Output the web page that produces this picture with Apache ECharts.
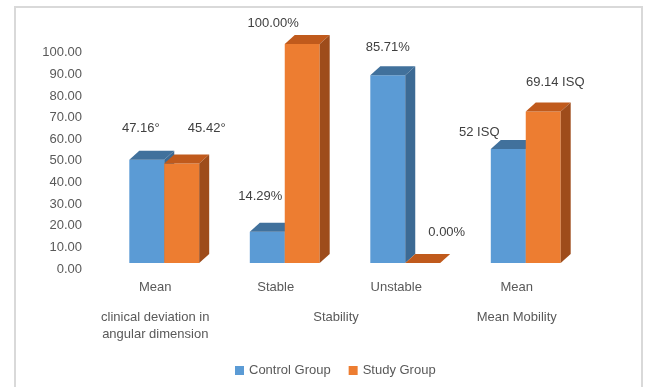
<!DOCTYPE html>
<html>
<head>
<meta charset="utf-8">
<script src="https://cdn.jsdelivr.net/npm/echarts@6/dist/echarts.min.js"></script>
<style>
  html, body { margin: 0; padding: 0; background: #fff; }
  #chart { width: 646px; height: 387px; }
</style>
</head>
<body>
<div id="chart"></div>
<script>
// categories along the x axis
var categories = ['Mean', 'Stable', 'Unstable', 'Mean'];
// group captions under the categories, and which category (or midpoint) each sits on
var groupNames = ['clinical deviation in\nangular dimension', 'Stability', 'Mean Mobility'];
var groupSpans = [[0, 0], [1, 2], [3, 3]];

var seriesNames = ['Control Group', 'Study Group'];
var controlValues = [47.16, 14.29, 85.71, 52];
var studyValues = [45.42, 100, 0, 69.14];
var controlLabels = ['47.16°', '14.29%', '85.71%', '52 ISQ'];
var studyLabels = ['45.42°', '100.00%', '0.00%', '69.14 ISQ'];

// y axis ticks
var yMin = 0, yMax = 100, yStep = 10;

// label placement (offset from top-centre of the bar front), as excel laid them out
var controlLabelShift = [[-6, -31], [-7, -35], [0, -28], [-29, -17]];
var studyLabelShift = [[25, -35], [-29, -21], [24, -31], [12, -29]];

var FONT = '"Liberation Sans", Arial, sans-serif';
var DEPTH_X = 10, DEPTH_Y = -9;
var SHIFT = 9;   // bars sit a little right of the category centre

var palette = [
    { front: '#5B9BD5', top: '#41719C', side: '#3C6A94' },
    { front: '#ED7D31', top: '#C05A1C', side: '#9E4C1B' }
];

function makeRender(idx, labels, shifts) {
    return function (params, api) {
        var cat = api.value(0), val = api.value(1);
        var base = api.coord([cat, 0]);
        var top = api.coord([cat, val]);
        var w = api.size([1, 0])[0] * 0.29;
        var cx = base[0] + SHIFT;
        var x0 = idx === 0 ? cx - w : cx;
        var yb = base[1], yt = top[1];
        var c = palette[idx];
        var sh = shifts[params.dataIndex];
        return {
            type: 'group',
            children: [
                { type: 'rect', shape: { x: x0, y: yt, width: w, height: yb - yt }, style: { fill: c.front } },
                { type: 'polygon', shape: { points: [[x0, yt], [x0 + w, yt], [x0 + w + DEPTH_X, yt + DEPTH_Y], [x0 + DEPTH_X, yt + DEPTH_Y]] }, style: { fill: c.top } },
                { type: 'polygon', shape: { points: [[x0 + w, yt], [x0 + w, yb], [x0 + w + DEPTH_X, yb + DEPTH_Y], [x0 + w + DEPTH_X, yt + DEPTH_Y]] }, style: { fill: c.side } },
                { type: 'text', style: {
                    text: labels[params.dataIndex],
                    x: x0 + w / 2 + sh[0], y: yt + sh[1],
                    align: 'center', verticalAlign: 'middle',
                    fill: '#404040', font: '13px ' + FONT
                } }
            ]
        };
    };
}

function pairs(values) {
    return values.map(function (v, i) { return [i, v]; });
}

var chart = echarts.init(document.getElementById('chart'));

var option = {
    animation: false,
    grid: [
        // bars
        { left: 95, right: 69, top: 44, bottom: 124 },
        // the value axis labels sit a little lower than the bar scale (3d back wall)
        { left: 95, right: 69, top: 52.7, bottom: 118 }
    ],
    xAxis: [
        {
            type: 'category', gridIndex: 0, data: categories,
            axisLine: { show: false }, axisTick: { show: false },
            axisLabel: { color: '#595959', fontFamily: FONT, fontSize: 13, margin: 18 }
        },
        { type: 'category', gridIndex: 1, data: categories, show: false }
    ],
    yAxis: [
        { type: 'value', gridIndex: 0, min: yMin, max: yMax, show: false },
        {
            type: 'value', gridIndex: 1, min: yMin, max: yMax, interval: yStep,
            axisLine: { show: false }, axisTick: { show: false }, splitLine: { show: false },
            axisLabel: {
                color: '#595959', fontFamily: FONT, fontSize: 13, margin: 13,
                formatter: function (v) { return v.toFixed(2); }
            }
        }
    ],
    legend: {
        data: seriesNames,
        top: 359, left: 230,
        icon: 'rect', itemWidth: 9, itemHeight: 9, itemGap: 18,
        textStyle: { color: '#595959', fontFamily: FONT, fontSize: 13 }
    },
    series: [
        {
            name: seriesNames[0], type: 'custom', xAxisIndex: 0, yAxisIndex: 0,
            itemStyle: { color: palette[0].front },
            renderItem: makeRender(0, controlLabels, controlLabelShift),
            data: pairs(controlValues)
        },
        {
            name: seriesNames[1], type: 'custom', xAxisIndex: 0, yAxisIndex: 0,
            itemStyle: { color: palette[1].front },
            renderItem: makeRender(1, studyLabels, studyLabelShift),
            data: pairs(studyValues)
        }
    ]
};
chart.setOption(option);

// frame + group captions under the category labels
var graphics = [{
    type: 'rect', silent: true, z: -1,
    shape: { x: 15, y: 7, width: 627, height: 400 },
    style: { fill: 'none', stroke: '#D9D9D9', lineWidth: 2 }
}];
groupNames.forEach(function (name, i) {
    var a = chart.convertToPixel({ xAxisIndex: 0 }, groupSpans[i][0]);
    var b = chart.convertToPixel({ xAxisIndex: 0 }, groupSpans[i][1]);
    graphics.push({
        type: 'text', silent: true,
        style: {
            text: name, x: (a + b) / 2, y: 309,
            align: 'center', verticalAlign: 'top', lineHeight: 17,
            fill: '#595959', font: '13px ' + FONT
        }
    });
});
chart.setOption({ graphic: graphics });
</script>
</body>
</html>
